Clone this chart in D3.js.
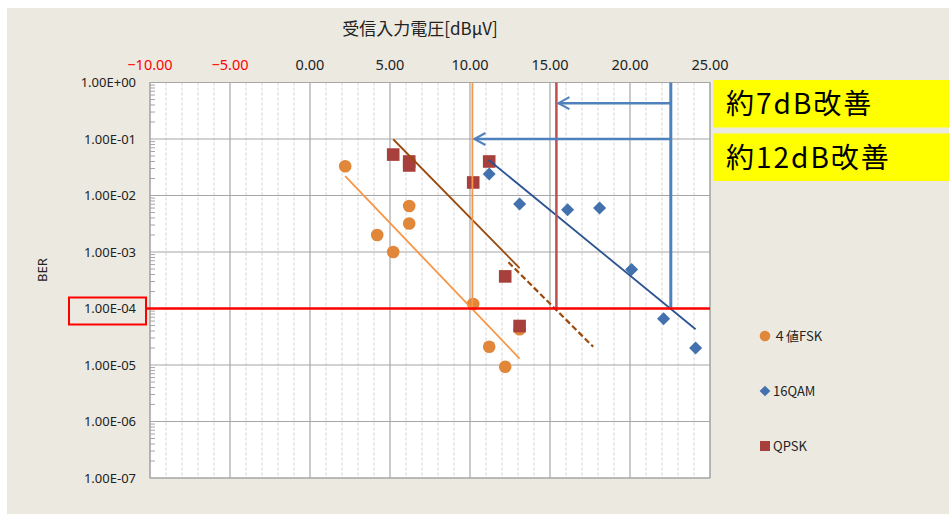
<!DOCTYPE html>
<html lang="ja">
<head>
<meta charset="UTF-8">
<title>BER</title>
<script src="https://d3js.org/d3.v7.min.js"></script>
<style>
  body { margin: 0; background: #fff; }
  svg { display: block; }
  text { font-family: "Noto Sans", "Noto Sans CJK JP", sans-serif; fill: #222; }
  .jp { font-family: "Noto Sans CJK JP", sans-serif; }
</style>
</head>
<body>
<svg width="949" height="514"></svg>
<script>
// tick values
const xTicks = [-10, -5, 0, 5, 10, 15, 20, 25];
const yTicks = [1, 1e-1, 1e-2, 1e-3, 1e-4, 1e-5, 1e-6, 1e-7];

// 4値FSK
const fskX   = [2.2, 4.2, 5.2, 6.2, 6.2, 10.2, 11.2, 12.2, 13.1];
const fskBer = [3.3e-2, 2.0e-3, 1.0e-3, 6.5e-3, 3.2e-3, 1.2e-4, 2.1e-5, 9.3e-6, 4.3e-5];
// 16QAM
const qamX   = [11.2, 13.1, 16.1, 18.1, 20.1, 22.1, 24.1];
const qamBer = [2.4e-2, 7.1e-3, 5.6e-3, 6.0e-3, 4.9e-4, 6.6e-5, 2.0e-5];
// QPSK
const qpskX   = [5.2, 6.2, 6.2, 10.2, 11.2, 12.2, 13.1];
const qpskBer = [5.3e-2, 4.0e-2, 3.4e-2, 1.7e-2, 4.0e-2, 3.7e-4, 4.9e-5];

// trend lines [x0, x1], [ber0, ber1]
const fskTrendX = [2.2, 13.1],   fskTrendBer = [2.2e-2, 1.3e-5];
const qpskTrendX = [5.2, 13.1],  qpskTrendBer = [9.9e-2, 5.2e-4];
const qpskDashX = [12.4, 17.7],  qpskDashBer = [6.6e-4, 2.1e-5];
const qamTrendX = [11.15, 24.1], qamTrendBer = [4.3e-2, 4.3e-5];

// reference lines
const targetBer = 1e-4;
const vLinesX = [10.15, 15.4, 22.55];
const arrowBer = [0.43, 0.1];
const arrowToX = [15.4, 10.15];

const notes = ["約7dB改善", "約12dB改善"];
const series = ["４値FSK", "16QAM", "QPSK"];

const C = {
  bg: "#ECE9E0", fsk: "#E0873A", fskLine: "#F79646", qpsk: "#A7403C", qpskLine: "#9A4A0C",
  qam: "#4271AE", qamLine: "#2B5391", blue: "#4F81BD", red: "#C0504D"
};

const svg = d3.select("svg");
const plot = {left: 150, right: 710, top: 82.5, bottom: 478};

svg.append("rect").attr("x", 7).attr("y", 8).attr("width", 942).attr("height", 506).attr("fill", C.bg);

const x = d3.scaleLinear().domain([-10, 25]).range([plot.left, plot.right]);
const y = d3.scaleLog().domain([1e-7, 1]).range([plot.bottom, plot.top]);

svg.append("rect")
   .attr("x", plot.left).attr("y", plot.top)
   .attr("width", plot.right - plot.left).attr("height", plot.bottom - plot.top)
   .attr("fill", "#fff");

// minor vertical grid every 1 dB
const g = svg.append("g");
g.selectAll(".vminor").data(d3.range(-9, 25).filter(v => v % 5 !== 0)).join("line")
 .attr("x1", d => x(d)).attr("x2", d => x(d))
 .attr("y1", plot.top).attr("y2", plot.bottom)
 .attr("stroke", "#D2D2D2").attr("stroke-width", 1).attr("stroke-dasharray", "3,2");
g.selectAll(".vmajor").data(xTicks).join("line")
 .attr("x1", d => x(d)).attr("x2", d => x(d))
 .attr("y1", plot.top).attr("y2", plot.bottom)
 .attr("stroke", "#A6A6A6").attr("stroke-width", 1.2);
g.selectAll(".hmajor").data(yTicks).join("line")
 .attr("x1", plot.left).attr("x2", plot.right)
 .attr("y1", d => y(d)).attr("y2", d => y(d))
 .attr("stroke", "#A6A6A6").attr("stroke-width", 1.2);
svg.append("rect")
   .attr("x", plot.left).attr("y", plot.top)
   .attr("width", plot.right - plot.left).attr("height", plot.bottom - plot.top)
   .attr("fill", "none").attr("stroke", "#A6A6A6");

// y axis with minor ticks inside
const minor = [];
for (let e = -7; e < 0; e++) for (let m = 2; m <= 9; m++) minor.push(m * Math.pow(10, e));
g.selectAll(".ymin").data(minor).join("line")
 .attr("x1", plot.left).attr("x2", plot.left + 5)
 .attr("y1", d => y(d)).attr("y2", d => y(d))
 .attr("stroke", "#A6A6A6");

const fmtE = d => {
  const e = Math.round(Math.log10(d));
  return "1.00E" + (e >= 0 ? "+" : "-") + String(Math.abs(e)).padStart(2, "0");
};
svg.append("g").selectAll("text").data(yTicks).join("text")
   .attr("x", 136).attr("y", d => y(d)).attr("dy", "0.35em")
   .attr("text-anchor", "end").attr("font-size", 13)
   .text(fmtE);

svg.append("text").attr("transform", "translate(47,270) rotate(-90)")
   .attr("text-anchor", "middle").attr("font-size", 13).text("BER");

// top axis labels
const fmtX = d3.format(".2f");
svg.append("g").selectAll("text").data(xTicks).join("text")
   .attr("x", d => x(d)).attr("y", 70)
   .attr("text-anchor", "middle").attr("font-size", 14.5)
   .attr("font-family", "'Liberation Sans Narrow', 'Liberation Sans', sans-serif")
   .style("fill", d => d < 0 ? "#FF0000" : "#222")
   .text(fmtX);

svg.append("text").attr("class", "jp").attr("x", 420).attr("y", 35)
   .attr("text-anchor", "middle").attr("font-size", 17).text("受信入力電圧[dBμV]");

// markers
svg.append("g").selectAll("circle").data(fskX.map((v, i) => [v, fskBer[i]])).join("circle")
   .attr("cx", d => x(d[0])).attr("cy", d => y(d[1])).attr("r", 6.3).attr("fill", C.fsk);
svg.append("g").selectAll("rect").data(qamX.map((v, i) => [v, qamBer[i]])).join("rect")
   .attr("x", -4.6).attr("y", -4.6).attr("width", 9.2).attr("height", 9.2)
   .attr("transform", d => `translate(${x(d[0])},${y(d[1])}) rotate(45)`)
   .attr("fill", C.qam);
svg.append("g").selectAll("rect").data(qpskX.map((v, i) => [v, qpskBer[i]])).join("rect")
   .attr("x", d => x(d[0]) - 6.3).attr("y", d => y(d[1]) - 6.3)
   .attr("width", 12.6).attr("height", 12.6).attr("fill", C.qpsk);

// trend lines
function seg(xs, bs, color, w, dash) {
  svg.append("line")
     .attr("x1", x(xs[0])).attr("y1", y(bs[0]))
     .attr("x2", x(xs[1])).attr("y2", y(bs[1]))
     .attr("stroke", color).attr("stroke-width", w)
     .attr("stroke-dasharray", dash || null);
}
seg(fskTrendX, fskTrendBer, C.fskLine, 1.8);
seg(qpskTrendX, qpskTrendBer, C.qpskLine, 1.8);
seg(qpskDashX, qpskDashBer, C.qpskLine, 2.2, "6,3");
seg(qamTrendX, qamTrendBer, C.qamLine, 1.8);

// vertical reference lines down to BER 1e-4
const vColors = [C.fskLine, C.red, C.blue], vWidths = [1.8, 2.5, 3];
vLinesX.forEach((v, i) => seg([v, v], [1, targetBer], vColors[i], vWidths[i]));

// red target line and box
svg.append("line").attr("x1", 146).attr("x2", plot.right)
   .attr("y1", y(targetBer)).attr("y2", y(targetBer))
   .attr("stroke", "#FF0000").attr("stroke-width", 2.5);
svg.append("rect").attr("x", 69).attr("y", 297.5).attr("width", 77).attr("height", 27)
   .attr("fill", "none").attr("stroke", "#FF0000").attr("stroke-width", 2);

// arrows
arrowBer.forEach((b, i) => {
  const x0 = x(vLinesX[2]), x1 = x(arrowToX[i]) + 2, yy = y(b);
  svg.append("line").attr("x1", x0).attr("x2", x1).attr("y1", yy).attr("y2", yy)
     .attr("stroke", C.blue).attr("stroke-width", 2.5);
  svg.append("path")
     .attr("d", `M${x1 + 11},${yy - 6} L${x1},${yy} L${x1 + 11},${yy + 6}`)
     .attr("fill", "none").attr("stroke", C.blue).attr("stroke-width", 2);
});

// note boxes
const noteY = [80, 133.5];
notes.forEach((t, i) => {
  svg.append("rect").attr("x", 713).attr("y", noteY[i]).attr("width", 236).attr("height", 47.5)
     .attr("fill", "#FFFF00");
  svg.append("text").attr("class", "jp").attr("x", 726).attr("y", noteY[i] + 34)
     .attr("font-size", 28).attr("letter-spacing", 2).style("fill", "#000").text(t);
});

// legend
const legY = [336, 391, 446];
const lg = svg.append("g");
lg.append("circle").attr("cx", 765).attr("cy", legY[0]).attr("r", 5.3).attr("fill", C.fsk);
lg.append("rect").attr("x", -3.8).attr("y", -3.8).attr("width", 7.6).attr("height", 7.6)
  .attr("transform", `translate(765,${legY[1]}) rotate(45)`).attr("fill", C.qam);
lg.append("rect").attr("x", 760).attr("y", legY[2] - 5).attr("width", 10).attr("height", 10).attr("fill", C.qpsk);
lg.selectAll("text").data(series).join("text")
  .attr("class", "jp").attr("x", 773).attr("y", (d, i) => legY[i]).attr("dy", "0.35em")
  .attr("font-size", 13).text(d => d);
</script>
</body>
</html>
